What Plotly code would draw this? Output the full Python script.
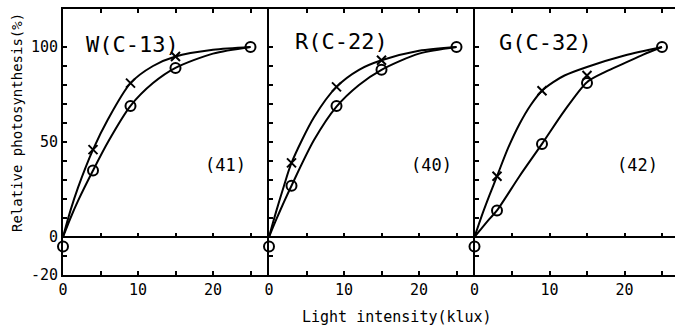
import plotly.graph_objects as go

# ---------------- data ----------------
# measured points (light intensity in klux, relative photosynthesis in %)
w_circle_x = [0, 4, 9, 15, 25]
w_circle_y = [-5, 35, 69, 89, 100]
w_cross_x = [4, 9, 15]
w_cross_y = [46, 81, 95]

r_circle_x = [0, 3, 9, 15, 25]
r_circle_y = [-5, 27, 69, 88, 100]
r_cross_x = [3, 9, 15]
r_cross_y = [39, 79, 93]

g_circle_x = [0, 3, 9, 15, 25]
g_circle_y = [-5, 14, 49, 81, 100]
g_cross_x = [3, 9, 15]
g_cross_y = [32, 77, 85]

# fitted curves
w_curve_x = [0, 1, 2, 4, 6, 9, 12, 15, 20, 25]
w_cross_curve = [0, 14, 26, 46, 62, 81, 90, 95, 98.5, 100]
w_circle_curve = [0, 10, 19, 35, 50, 69, 81, 89, 96.5, 100]

r_curve_x = [0, 1, 2, 3, 6, 9, 12, 15, 20, 25]
r_cross_curve = [0, 14, 27, 39, 63, 79, 88, 93, 98, 100]
r_circle_curve = [0, 9.5, 18.5, 27, 51, 68.6, 80, 88, 96.5, 100]

g_cross_curve_x = [0, 1, 2, 3, 4.5, 6, 7.5, 9, 10.5, 12, 15, 20, 25]
g_cross_curve = [0, 11.5, 22, 32, 47, 59.5, 69.5, 77, 81.5, 85, 89.5, 95.5, 100]
g_circle_curve_x = [0, 1, 2, 3, 6, 9, 12, 15, 17.5, 20, 22.5, 25]
g_circle_curve = [0, 4.8, 9.5, 14, 32, 49, 66.5, 81.5, 87, 91.5, 96, 100]

panel_titles = ["W(C-13)", "R(C-22)", "G(C-32)"]
panel_counts = ["(41)", "(40)", "(42)"]

y_ticks = list(range(-20, 101, 10))
y_labels = ["-20", "", "0", "", "", "", "", "50", "", "", "", "", "100"]
x_ticks = [0, 5, 10, 15, 20, 25]
x_labels = ["0", "", "10", "", "20", ""]

# ---------------- layout geometry ----------------
W, H = 675, 327
ML, MR, MT, MB = 63, 0, 9, 52
PW = W - ML - MR
PH = H - MT - MB
px_per_unit = 7.5
edges = [63, 269, 474.5, 675]
domains = [[(edges[i] - ML) / PW, (edges[i + 1] - ML) / PW] for i in range(3)]
xranges = [[0, (edges[i + 1] - edges[i]) / px_per_unit] for i in range(3)]
YR = [-20, 120]

FONT = "DejaVu Sans Mono"

fig = go.Figure()

panels = [
    (w_circle_x, w_circle_y, w_cross_x, w_cross_y,
     [(w_curve_x, w_cross_curve), (w_curve_x, w_circle_curve)]),
    (r_circle_x, r_circle_y, r_cross_x, r_cross_y,
     [(r_curve_x, r_cross_curve), (r_curve_x, r_circle_curve)]),
    (g_circle_x, g_circle_y, g_cross_x, g_cross_y,
     [(g_cross_curve_x, g_cross_curve), (g_circle_curve_x, g_circle_curve)]),
]

for i, (cx, cy, xx, xy, curves) in enumerate(panels):
    xa = "x" if i == 0 else f"x{i+1}"
    ya = "y" if i == 0 else f"y{i+1}"
    for kx, cv in curves:
        fig.add_trace(go.Scatter(x=kx, y=cv, mode="lines", xaxis=xa, yaxis=ya,
                                 line=dict(color="black", width=2, shape="spline", smoothing=0.8),
                                 showlegend=False, hoverinfo="skip"))
    fig.add_trace(go.Scatter(x=cx, y=cy, mode="markers", xaxis=xa, yaxis=ya,
                             marker=dict(symbol="circle-open", size=10, color="black",
                                         line=dict(width=2, color="black")),
                             cliponaxis=False, showlegend=False))
    fig.add_trace(go.Scatter(x=xx, y=xy, mode="markers", xaxis=xa, yaxis=ya,
                             marker=dict(symbol="x-thin-open", size=9, color="black",
                                         line=dict(width=2, color="black")),
                             cliponaxis=False, showlegend=False))
    # invisible trace for zero-line tick axis
    fig.add_trace(go.Scatter(x=[], y=[], xaxis=f"x{i+4}", yaxis=ya, showlegend=False,
                             hoverinfo="skip"))

layout = dict(
    width=W, height=H,
    margin=dict(l=ML, r=MR, t=MT, b=MB),
    paper_bgcolor="white", plot_bgcolor="white",
    font=dict(family=FONT, color="black", size=15),
    showlegend=False,
)

for i in range(3):
    xk = "xaxis" if i == 0 else f"xaxis{i+1}"
    yk = "yaxis" if i == 0 else f"yaxis{i+1}"
    ya = "y" if i == 0 else f"y{i+1}"
    xa = "x" if i == 0 else f"x{i+1}"
    layout[xk] = dict(
        domain=domains[i], range=xranges[i], anchor=ya,
        tickmode="array", tickvals=x_ticks, ticktext=x_labels,
        ticks="inside", ticklen=4, tickwidth=1.5, tickcolor="black",
        showline=True, linewidth=2, linecolor="black", mirror="ticks",
        showgrid=False, zeroline=False,
        tickfont=dict(family=FONT, size=15, color="black"),
        fixedrange=True,
    )
    layout[yk] = dict(
        domain=[0, 1], range=YR, anchor=xa,
        tickmode="array", tickvals=y_ticks, ticktext=y_labels,
        ticks="inside", ticklen=4, tickwidth=1.5, tickcolor="black",
        showline=True, linewidth=2, linecolor="black",
        mirror=False,
        showgrid=False, zeroline=True, zerolinecolor="black", zerolinewidth=2,
        showticklabels=(i == 0),
        tickfont=dict(family=FONT, size=15, color="black"),
        fixedrange=True,
    )
    layout[f"xaxis{i+4}"] = dict(
        overlaying=xa, anchor="free", position=20 / 140, range=xranges[i],
        tickmode="array", tickvals=x_ticks[1:],
        ticks="inside", ticklen=4, tickwidth=1.5, tickcolor="black",
        showticklabels=False, showline=False, showgrid=False, zeroline=False,
        fixedrange=True,
    )

fig.update_layout(**layout)

title_pos = [(9.2, 101.5), (9.6, 103), (9.5, 102.5)]
count_pos = [(21.6, 38), (21.7, 38), (21.7, 38)]
for i in range(3):
    xa = "x" if i == 0 else f"x{i+1}"
    ya = "y" if i == 0 else f"y{i+1}"
    fig.add_annotation(x=title_pos[i][0], y=title_pos[i][1], xref=xa, yref=ya,
                       text=panel_titles[i], showarrow=False,
                       font=dict(family=FONT, size=22, color="black"))
    fig.add_annotation(x=count_pos[i][0], y=count_pos[i][1], xref=xa, yref=ya,
                       text=panel_counts[i], showarrow=False,
                       font=dict(family=FONT, size=17, color="black"))

fig.add_annotation(x=(397 - ML) / PW, y=(H - MB - 317) / PH, xref="paper", yref="paper",
                   text="Light intensity(klux)", showarrow=False,
                   font=dict(family=FONT, size=15, color="black"),
                   xanchor="center", yanchor="middle")

fig.add_annotation(x=(17 - ML) / PW, y=(H - MB - 123) / PH,
                   xref="paper", yref="paper",
                   text="Relative photosynthesis(%)", showarrow=False, textangle=-90,
                   font=dict(family=FONT, size=14, color="black"),
                   xanchor="center", yanchor="middle")

fig.write_html("out.html")
